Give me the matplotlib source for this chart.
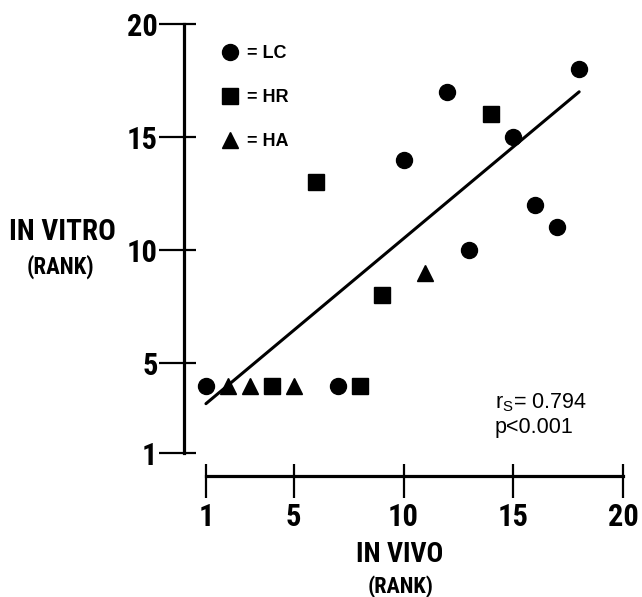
import matplotlib
matplotlib.use("Agg")
import matplotlib.pyplot as plt

# ranks
lc_x = [1, 7, 10, 12, 13, 15, 16, 17, 18]
lc_y = [4, 4, 14, 17, 10, 15, 12, 11, 18]
hr_x = [4, 8, 6, 9, 14]
hr_y = [4, 4, 13, 8, 16]
ha_x = [2, 3, 5, 11]
ha_y = [4, 4, 4, 9]
fit_x = [1, 18]
fit_y = [3.2, 17.0]
ticks_x = [1, 5, 10, 15, 20]
ticks_y = [1, 5, 10, 15, 20]

cond = ["Roboto Condensed", "Archivo Narrow", "DejaVu Sans"]
plain = ["Liberation Sans", "DejaVu Sans"]

fig = plt.figure(figsize=(6.42, 5.97), dpi=100)
ax = fig.add_axes([0.2866, 0.2027, 0.701, 0.776])
ax.set_xlim(0, 20.5)
ax.set_ylim(0, 20.5)

ms = 11.5
ax.plot(lc_x, lc_y, "o", color="black", ms=ms, label="= LC")
ax.plot(hr_x, hr_y, "s", color="black", ms=ms * 0.95, label="= HR")
ax.plot(ha_x, ha_y, "^", color="black", ms=ms, label="= HA")
ax.plot(fit_x, fit_y, color="black", lw=2.2, solid_capstyle="round")

for s in ("top", "right"):
    ax.spines[s].set_visible(False)
ax.spines["left"].set_position(("data", 0))
ax.spines["bottom"].set_position(("data", 0))
ax.spines["left"].set_bounds(1, 20)
ax.spines["bottom"].set_bounds(1, 20)
for s in ("left", "bottom"):
    ax.spines[s].set_linewidth(2.3)

# long tick outside, short tick inside (major out + minor in at same spots)
ax.set_xticks(ticks_x)
ax.set_yticks(ticks_y)
ax.set_xticks(ticks_x, minor=True)
ax.set_yticks(ticks_y, minor=True)
ax.xaxis.remove_overlapping_locs = False
ax.yaxis.remove_overlapping_locs = False
ax.tick_params(which="major", direction="out", width=1.6, color="black")
ax.tick_params(axis="y", which="major", length=18, pad=1)
ax.tick_params(axis="x", which="major", length=16, pad=3)
ax.tick_params(which="minor", direction="in", length=8.5, width=1.6)
ax.tick_params(which="minor", labelbottom=False, labelleft=False)
for lab in ax.get_xticklabels() + ax.get_yticklabels():
    lab.set_fontfamily(cond)
    lab.set_fontweight("bold")
    lab.set_fontsize(22)

leg = ax.legend(loc="upper left", bbox_to_anchor=(0.045, 0.965), frameon=False,
                handletextpad=0.45, labelspacing=1.5, handlelength=1.0,
                prop={"family": plain, "weight": "bold", "size": 13})

fig.text(62 / 642, 1 - 232 / 597, "IN VITRO", ha="center", va="center",
         family=cond, weight="bold", size=21)
fig.text(60 / 642, 1 - 267 / 597, "(RANK)", ha="center", va="center",
         family=cond, weight="bold", size=16.5)
fig.text(400 / 642, 1 - 554 / 597, "IN VIVO", ha="center", va="center",
         family=cond, weight="bold", size=20)
fig.text(401 / 642, 1 - 587 / 597, "(RANK)", ha="center", va="center",
         family=cond, weight="bold", size=16)

fig.text(495 / 642, 1 - 403 / 597, r"r$_\mathregular{S}$= 0.794", ha="left",
         va="center", family=plain, size=15.5)
fig.text(495 / 642, 1 - 428 / 597, "p<0.001", ha="left", va="center",
         family=plain, size=15.5)

fig.savefig("out.png", dpi=100)
